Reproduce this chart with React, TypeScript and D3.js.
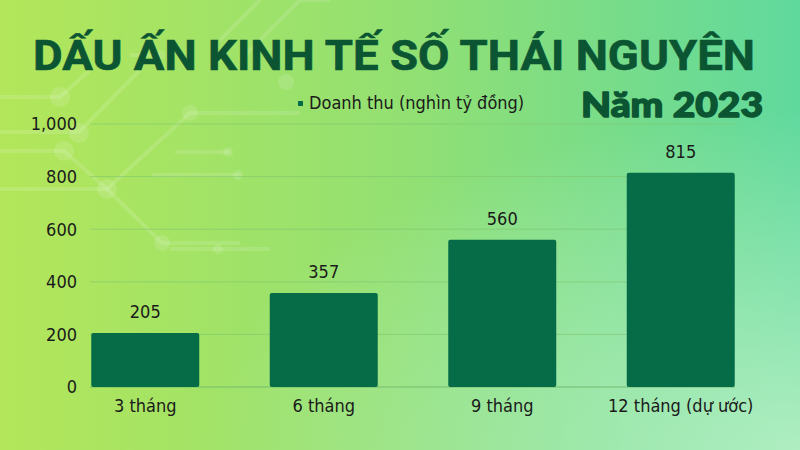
import React from "react";
import * as d3 from "d3";

const categories = ["3 tháng", "6 tháng", "9 tháng", "12 tháng (dự ước)"];
const revenue = [205, 357, 560, 815];
const yTicks = [0, 200, 400, 600, 800, 1000];
const seriesName = "Doanh thu (nghìn tỷ đồng)";
const title = "DẤU ẤN KINH TẾ SỐ THÁI NGUYÊN";
const subtitle = "Năm 2023";

// faint circuit decoration on the left
const circuitLines = [
  "M0,97 H60 L90,70",
  "M0,132 H79 L140,70",
  "M0,151 H64 L107,189 L190,113 H300",
  "M0,189 H107 L162,243 H240",
  "M175,152 H230",
  "M152,175 H240",
  "M170,249 H270",
  "M220,40 L260,0",
  "M240,60 L300,0 H330",
  "M130,55 H160",
];
const circuitDots: [number, number, number][] = [
  [60, 97, 10],
  [79, 133, 10],
  [64, 151, 10],
  [107, 189, 10],
  [190, 113, 8],
  [162, 243, 8],
  [228, 152, 5],
  [238, 175, 5],
  [218, 249, 5],
  [286, 82, 8],
  [160, 55, 5],
];

const BAR = "#056c47";
const TITLE = "#0b5533";

export default function App() {
  const width = 800;
  const height = 450;

  const x = d3.scaleBand<string>().domain(categories).range([56, 770]).paddingInner(0.395).paddingOuter(0.1975);
  const y = d3.scaleLinear().domain([0, 1000]).range([387, 124]);
  const fmt = d3.format(",");
  const font = "'DejaVu Sans Condensed', 'DejaVu Sans', sans-serif";

  return (
    <svg width={width} height={height} style={{ position: "absolute", left: 0, top: 0 }}>
      <defs>
        <linearGradient id="bg" x1="0" y1="0" x2="1" y2="0">
          <stop offset="0" stopColor="#b3e65a" />
          <stop offset="0.5" stopColor="#93e072" />
          <stop offset="1" stopColor="#60d99e" />
        </linearGradient>
        <radialGradient id="glow" cx="1" cy="1" r="0.75">
          <stop offset="0" stopColor="#b8f0c4" stopOpacity="0.9" />
          <stop offset="1" stopColor="#b8f0c4" stopOpacity="0" />
        </radialGradient>
      </defs>
      <rect width={width} height={height} fill="url(#bg)" />
      <rect width={width} height={height} fill="url(#glow)" />

      <g stroke="#ffffff" strokeOpacity={0.13} strokeWidth={4} fill="none">
        {circuitLines.map((d, i) => (
          <path key={i} d={d} />
        ))}
      </g>
      <g fill="#ffffff" fillOpacity={0.13}>
        {circuitDots.map(([cx, cy, r], i) => (
          <circle key={i} cx={cx} cy={cy} r={r} />
        ))}
      </g>

      <text
        x={33}
        y={70}
        textLength={722}
        lengthAdjust="spacingAndGlyphs"
        fontFamily="Roboto, 'Liberation Sans', sans-serif"
        fontWeight={700}
        fontSize={42}
        fill={TITLE}
        stroke={TITLE}
        strokeWidth={0.6}
      >
        {title}
      </text>
      <text
        x={581}
        y={117}
        textLength={182}
        lengthAdjust="spacingAndGlyphs"
        fontFamily="Lato, Inter, Roboto, sans-serif"
        fontWeight={900}
        fontSize={34}
        fill={TITLE}
        stroke={TITLE}
        strokeWidth={1.4}
        strokeLinejoin="round"
      >
        {subtitle}
      </text>

      {/* legend */}
      <rect x={298} y={101} width={5} height={5} fill={BAR} />
      <text x={309} y={109} fontFamily={font} fontSize={18} fill="#1a1a1a">
        {seriesName}
      </text>

      {/* gridlines */}
      <g>
        {yTicks.map((t) => (
          <line key={t} x1={90} x2={735} y1={y(t)} y2={y(t)} stroke={t === 0 ? "#6fb86a" : "#7fc46f"} strokeOpacity={t === 0 ? 0.9 : 0.6} strokeWidth={1} />
        ))}
      </g>
      <g fontFamily={font} fontSize={18} fill="#1a1a1a" textAnchor="end">
        {yTicks.map((t) => (
          <text key={t} x={77} y={y(t)} dy="0.35em">
            {fmt(t)}
          </text>
        ))}
      </g>

      {/* bars */}
      <g>
        {categories.map((c, i) => (
          <rect key={c} x={x(c)} y={y(revenue[i])} width={x.bandwidth()} height={y(0) - y(revenue[i])} fill={BAR} rx={2} />
        ))}
      </g>
      <g fontFamily={font} fontSize={18} fill="#1a1a1a" textAnchor="middle">
        {categories.map((c, i) => (
          <text key={c} x={(x(c) ?? 0) + x.bandwidth() / 2} y={y(revenue[i]) - 15}>
            {fmt(revenue[i])}
          </text>
        ))}
        {categories.map((c) => (
          <text key={c + "l"} x={(x(c) ?? 0) + x.bandwidth() / 2} y={412}>
            {c}
          </text>
        ))}
      </g>
    </svg>
  );
}
